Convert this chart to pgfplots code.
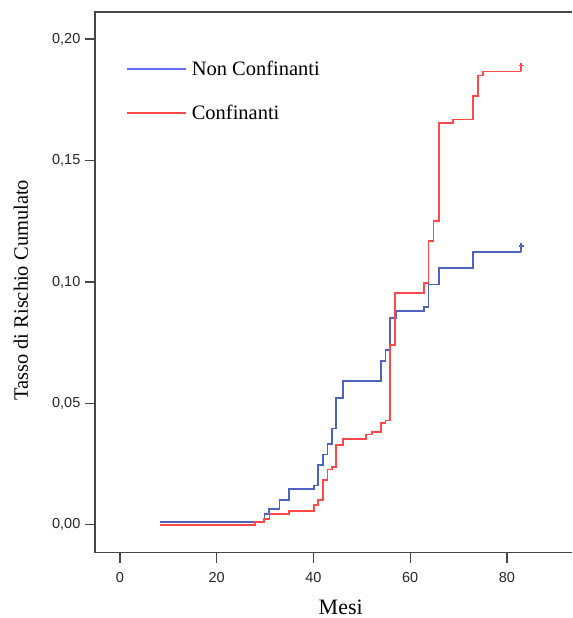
\documentclass[border=0pt]{standalone}
\usepackage{fontspec}
\setmainfont{Liberation Serif}
\newfontfamily\ticksans{Liberation Sans}
\usepackage{pgfplots}
\pgfplotsset{compat=1.18}

\definecolor{nonconf}{RGB}{78,98,192}
\definecolor{conf}{RGB}{255,72,72}
\definecolor{legblue}{RGB}{105,105,255}
\definecolor{frame}{RGB}{70,70,70}

\begin{document}
\begin{tikzpicture}
\begin{axis}[
  name=ax,
  scale only axis,
  width=478pt, height=541.3pt,
  xmin=-5.16, xmax=93.48,
  ymin=-0.01144, ymax=0.2112,
  xtick={0,20,40,60,80},
  ytick={0,0.05,0.10,0.15,0.20},
  axis line style={draw=none},
  tick align=outside,
  xtick pos=bottom, ytick pos=left,
  major tick length=10pt,
  major tick style={frame, line width=1.4pt},
  /pgf/number format/assume math mode=true,
  tick label style={font=\ticksans\fontsize{14.5}{16}\selectfont, text=black!85},
  yticklabel style={xshift=-1pt, /pgf/number format/.cd, fixed, fixed zerofill, precision=2, use comma},
  xticklabel style={yshift=-6pt},
  xlabel={Mesi},
  ylabel={Tasso di Rischio Cumulato},
  label style={font=\fontsize{20.5}{24}\selectfont},
  xlabel style={at={(axis description cs:0.515,0)}, anchor=base, yshift=-62pt, font=\fontsize{22}{26}\selectfont},
  ylabel style={at={(axis description cs:-0.1402,0.485)}, anchor=base, rotate=0},
  clip=false,
  legend style={draw=none, fill=none, at={(axis description cs:0.065,0.913)}, anchor=north west,
    font=\fontsize{20.5}{24}\selectfont, row sep=24pt, inner sep=0pt,
    nodes={inner xsep=5pt}},
  legend cell align=left,
  legend image code/.code={\draw[#1] (0pt,0pt) -- (59pt,0pt);},
]
\draw[frame, line width=1.4pt] (rel axis cs:1,1) -- (rel axis cs:0,1) -- (rel axis cs:0,0) -- (rel axis cs:1,0);

\addlegendimage{legblue, line width=1.8pt}
\addlegendentry{Non Confinanti}
\addlegendimage{conf, line width=1.8pt}
\addlegendentry{Confinanti}

% Non Confinanti
\addplot[const plot, nonconf, line width=1.7pt, forget plot] coordinates {
(8.3,0.0012)(29.9,0.0043)(30.8,0.0064)(33.0,0.0101)(34.9,0.0146)(40.1,0.0162)
(41.0,0.0246)(42.0,0.0290)(42.9,0.0334)(43.9,0.0397)(44.7,0.0523)(46.1,0.0592)
(54.0,0.0674)(54.9,0.0719)(55.8,0.0852)(57.0,0.0880)(62.9,0.0896)(63.8,0.0990)
(66.0,0.1058)(73.0,0.1124)(82.9,0.1124)};
\addplot[nonconf, line width=1.7pt, mark=+, mark size=2.5pt, mark indices={2}, forget plot]
  coordinates {(82.9,0.1124)(82.9,0.1149)};

% Confinanti
\addplot[const plot, conf, line width=1.7pt, forget plot] coordinates {
(8.3,0.0000)(28.0,0.0012)(29.8,0.0025)(30.9,0.0043)(34.9,0.0057)(40.1,0.0081)
(41.0,0.0101)(42.0,0.0183)(42.9,0.0228)(43.9,0.0239)(44.7,0.0328)(46.1,0.0354)
(50.8,0.0372)(52.1,0.0383)(54.0,0.0418)(54.9,0.0430)(55.8,0.0739)(56.8,0.0955)
(62.9,0.0996)(63.8,0.1168)(64.8,0.1250)(66.0,0.1655)(68.9,0.1669)(73.0,0.1767)
(74.0,0.1850)(75.0,0.1867)(82.9,0.1867)};
\addplot[conf, line width=1.7pt, mark=+, mark size=2.5pt, mark indices={2}, forget plot]
  coordinates {(82.9,0.1867)(82.9,0.1892)};
\end{axis}
\path[use as bounding box] ([xshift=-95pt,yshift=-64.7pt]ax.south west) rectangle ([yshift=12pt]ax.north east);
\end{tikzpicture}
\end{document}
